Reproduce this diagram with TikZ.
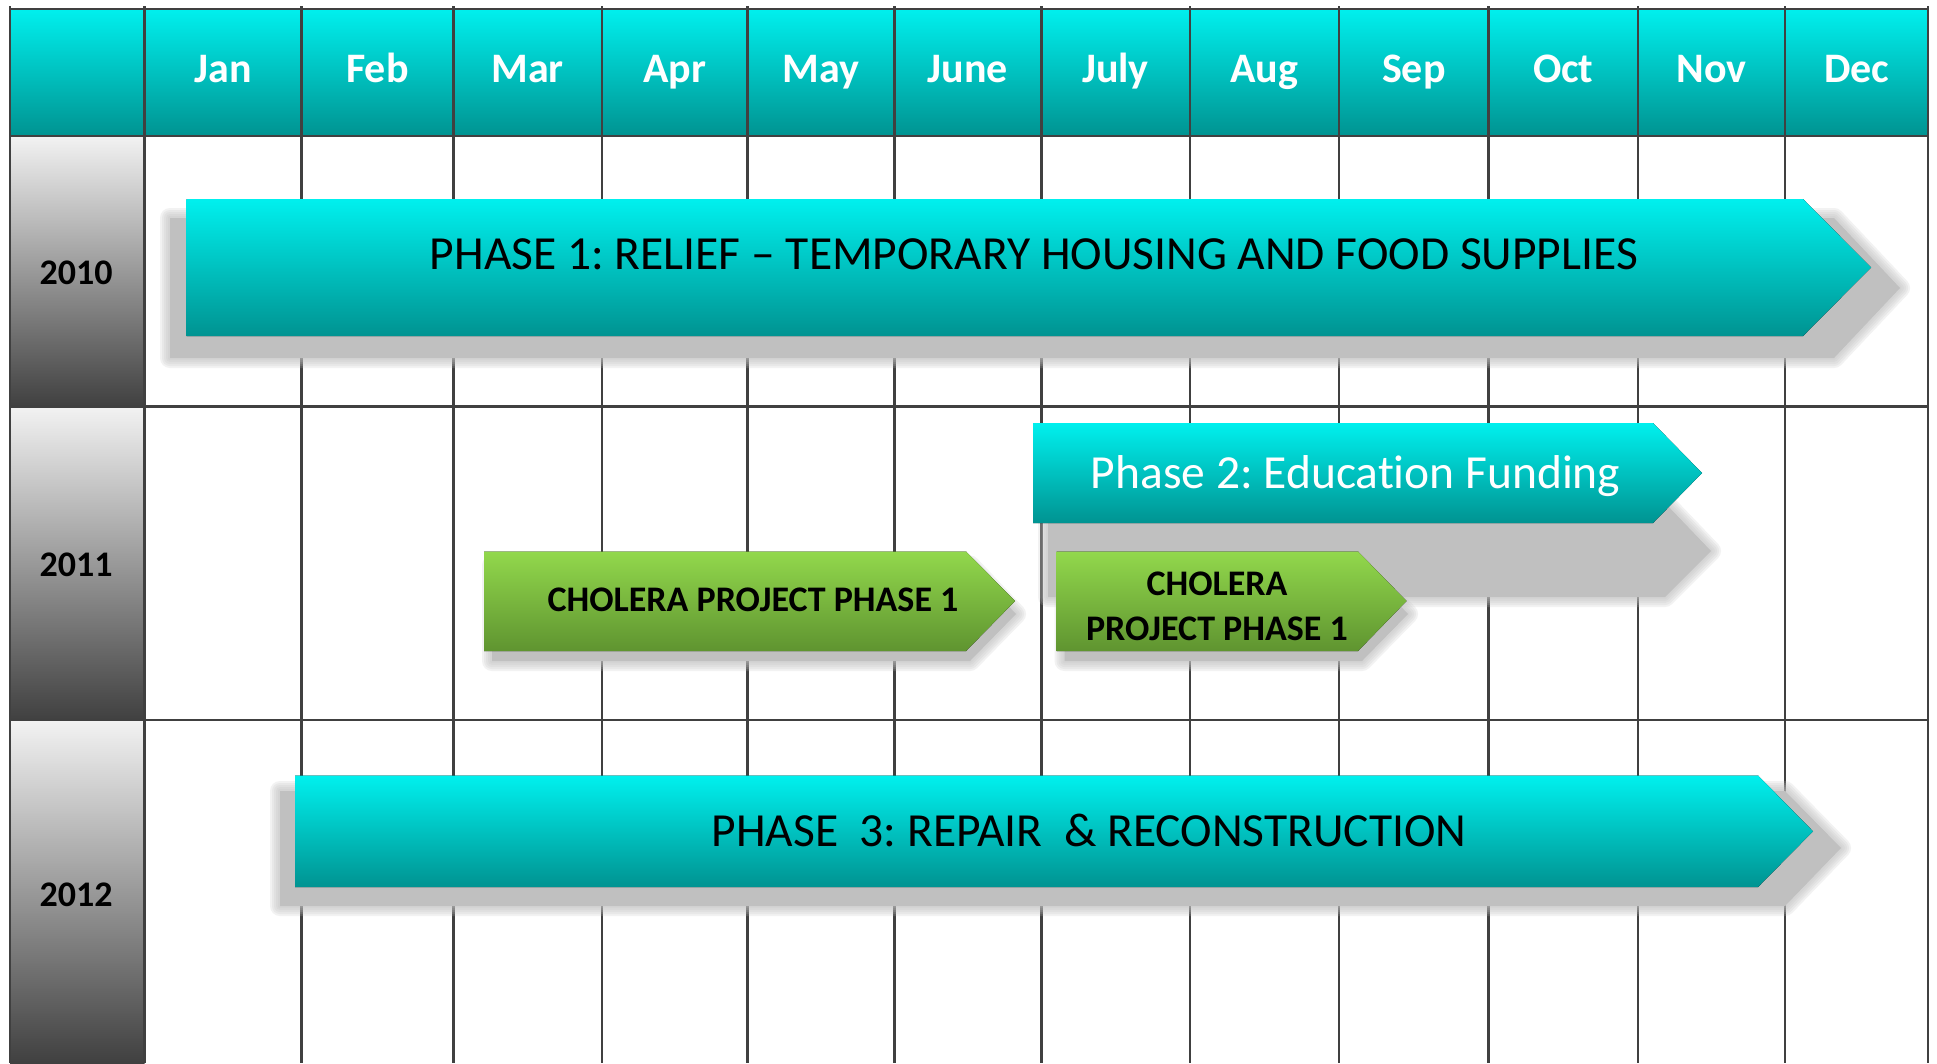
\documentclass[tikz,border=0pt]{standalone}
\usepackage{fontspec}
\setmainfont{Carlito}[Ligatures={TeX,NoCommon}]
\definecolor{cyantop}{HTML}{00F0EE}
\definecolor{tealbot}{HTML}{009391}
\definecolor{greentop}{HTML}{92D84C}
\definecolor{greenbot}{HTML}{5F9430}
\definecolor{gridgray}{HTML}{404040}
\definecolor{shadowgray}{HTML}{C0C0C0}
\newcommand\softshadow[1]{%
	\foreach \w in {20,16,12,8,4}
		\draw[draw=shadowgray,line width=\w pt,opacity=.2] #1;
	\fill[shadowgray] #1;}
\frenchspacing
\begin{document}
\begin{tikzpicture}[x=1pt,y=-1pt,line join=round,
		grid/.style={draw=gridgray,line width=2.2pt},
		head/.style={top color=cyantop,bottom color=tealbot},
		yearcell/.style={top color=black!5,bottom color=gridgray},
		bar/.style={top color=cyantop,bottom color=tealbot},
		greenbar/.style={top color=greentop,bottom color=greenbot},
		month/.style={text=white,anchor=base,font=\fontsize{42}{50}\selectfont\bfseries},
		year/.style={font=\fontsize{36}{42}\selectfont\bfseries},
		phase/.style={anchor=base,font=\fontsize{47.5}{56}\selectfont},
		cholera/.style={font=\fontsize{36}{45}\selectfont\bfseries,align=center}]
	\useasboundingbox (0,0) rectangle (1937,1063);
	\fill[white] (0,0) rectangle (1937,1063);
	% header and year column
	\fill[head] (10,8.6) rectangle (1928.3,136);
	\fill[yearcell] (10,136) rectangle (144.5,406.4);
	\fill[yearcell] (10,406.4) rectangle (144.5,720.2);
	\fill[yearcell] (10,720.2) rectangle (144.5,1063);
	% grid
	\foreach \x in {10,144.5,301.4,453.4,601.6,747.4,894.4,1041.4,1189.6,1339.1,1488.5,1638,1785,1928.3}
		\draw[grid] (\x,6) -- (\x,1063);
	\foreach \y in {8.6,136,406.4,720.2}
		\draw[grid] (10,\y) -- (1928.3,\y);
	\foreach \xa/\xb/\m [count=\i] in {144.5/301.4/Jan,301.4/453.4/Feb,453.4/601.6/Mar,601.6/747.4/Apr,747.4/894.4/May,894.4/1041.4/June,1041.4/1189.6/July,1189.6/1339.1/Aug,1339.1/1488.5/Sep,1488.5/1638/Oct,1638/1785/Nov,1785/1928.3/Dec}
		\node[month] (m\i) at ({(\xa+\xb)/2},82) {\m};
	\node[year] (y2010) at (76,272.5) {2010};
	\node[year] (y2011) at (76,564.7) {2011};
	\node[year] (y2012) at (76,895) {2012};
	% phase 1
	\softshadow{(170,218) -- (1834,218) -- (1900,288) -- (1834,358) -- (170,358) -- cycle}
	\fill[bar] (186.5,199) -- (1803,199) -- (1871,267.5) -- (1803,336) -- (186.5,336) -- cycle;
	\node[phase] (p1) at (1034,269.3) {PHASE 1: RELIEF – TEMPORARY HOUSING AND FOOD SUPPLIES};
	% phase 2
	\softshadow{(1048,503) -- (1665,503) -- (1711,551) -- (1665,597) -- (1048,597) -- cycle}
	\fill[bar] (1033,423) -- (1653,423) -- (1702,473) -- (1653,523) -- (1033,523) -- cycle;
	\node[phase,text=white] (p2) at (1355.7,488.7) {Phase 2: Education Funding};
	% cholera
	\softshadow{(492,565.5) -- (970,565.5) -- (1016,614) -- (970,661) -- (492,661) -- cycle}
	\fill[greenbar] (484,551.5) -- (966,551.5) -- (1015,601) -- (966,651) -- (484,651) -- cycle;
	\node[cholera,anchor=base] (c1) at (753,611) {CHOLERA PROJECT PHASE 1};
	\softshadow{(1064.5,565.5) -- (1362,565.5) -- (1408,614) -- (1362,661) -- (1064.5,661) -- cycle}
	\fill[greenbar] (1056.5,551.5) -- (1358,551.5) -- (1406.5,601) -- (1358,651) -- (1056.5,651) -- cycle;
	\node[cholera] (c2) at (1217,606.7) {CHOLERA\\PROJECT PHASE 1};
	% phase 3
	\softshadow{(280,791) -- (1785,791) -- (1841,848) -- (1785,906) -- (280,906) -- cycle}
	\fill[bar] (295,775.5) -- (1758,775.5) -- (1813,831.3) -- (1758,887) -- (295,887) -- cycle;
	\node[phase] (p3) at (1089,846) {PHASE~~3: REPAIR~~\& RECONSTRUCTION};
\end{tikzpicture}
\end{document}
